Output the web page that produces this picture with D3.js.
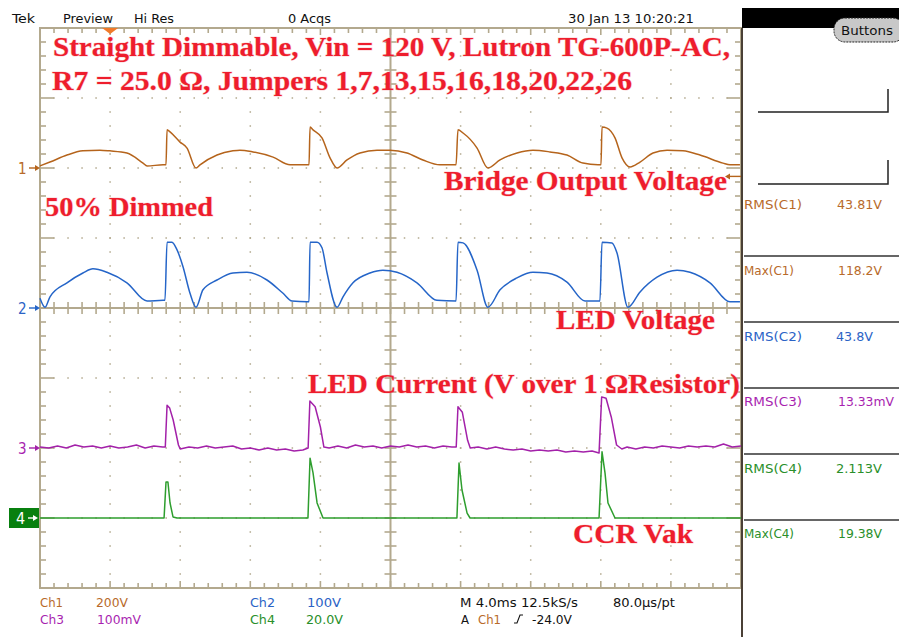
<!DOCTYPE html>
<html><head><meta charset="utf-8">
<script src="https://cdn.jsdelivr.net/npm/d3@7"></script>
<style>html,body{margin:0;padding:0;background:#fff;}svg{display:block;}</style>
</head><body>
<svg id="c" width="899" height="637"></svg>
<script>
// ---------------- DATA ----------------
// time in ms (4 ms/div, 10 div), values in channel units
const ch1Trace = [[0,6],[0.57,17],[1.54,37],[2.45,49],[3.42,51],[3.99,49],[4.96,43],[5.88,14],[6.11,6],[7.02,9],[7.19,9],[7.25,109],[7.42,103],[7.99,74],[8.39,57],[8.90,0],[9.13,9],[10.10,37],[11.01,49],[11.41,51],[12.15,46],[13.30,31],[14.27,9],[15.24,9],[15.35,9],[15.41,117],[15.58,109],[16.09,86],[16.55,29],[16.95,0],[17.52,23],[18.26,43],[19.23,51],[19.97,51],[20.94,43],[21.85,23],[22.82,9],[23.74,9],[23.85,109],[24.14,100],[24.94,57],[25.56,0],[26.25,23],[27.22,43],[28.13,51],[29.10,46],[30.07,37],[30.98,14],[31.84,9],[32.01,9],[32.07,117],[32.35,114],[32.81,86],[33.21,29],[33.67,3],[34.24,17],[34.98,43],[35.78,51],[36.69,49],[37.66,37],[38.97,14],[39.37,9],[39.94,9]];
const ch2Trace = [[0,14],[0.29,1],[0.57,16],[1.54,36],[2.45,50],[3.02,56],[3.82,51],[4.96,36],[6.11,10],[7.02,11],[7.13,11],[7.25,94],[7.53,94],[7.82,83],[8.16,59],[8.56,21],[8.90,1],[9.30,26],[10.10,40],[11.01,50],[11.81,51],[12.95,40],[13.87,21],[14.38,10],[15.24,9],[15.35,9],[15.41,94],[15.81,94],[16.09,86],[16.38,50],[16.95,1],[17.29,16],[17.86,36],[18.83,50],[19.57,54],[20.37,51],[21.51,36],[22.65,11],[23.74,10],[23.85,94],[24.14,93],[24.94,54],[25.56,1],[26.25,26],[27.22,43],[28.13,51],[28.93,50],[30.07,37],[31.10,10],[31.95,10],[32.07,94],[32.64,93],[32.92,79],[33.55,1],[34.24,23],[35.21,44],[36.35,54],[37.09,51],[38.23,36],[39.37,9],[39.94,9]];
const ch3Trace = [[0,1.4],[0.5,0],[1,2.9],[1.5,0],[2,4.3],[2.5,1.4],[3,2.9],[3.5,0],[4,2.9],[4.5,0],[5,1.4],[5.5,4.3],[6,0],[6.5,2.9],[7,1.4],[7.15,1.4],[7.25,61],[7.4,57],[7.6,40],[7.9,4.3],[8,-1.4],[8.5,1.4],[9,0],[9.5,2.9],[10,0],[10.5,1.4],[11,2.9],[11.5,-1.4],[12,0],[12.5,-2.9],[13,0],[13.5,-2.9],[14,-1.4],[14.5,-4.3],[15,-2.9],[15.3,0],[15.4,67],[15.7,59],[16,30],[16.2,1.4],[16.5,0],[17,2.9],[17.5,0],[18,4.3],[18.5,1.4],[19,2.9],[19.5,0],[20,2.9],[20.5,1.4],[21,4.3],[21.5,1.4],[22,2.9],[22.5,0],[23,2.9],[23.5,1.4],[23.75,1.4],[23.85,59],[24.1,51],[24.4,11],[24.55,0],[25,1.4],[25.5,-1.4],[26,1.4],[26.5,-1.4],[27,-2.9],[27.5,-1.4],[28,-4.3],[28.5,-2.9],[29,-4.3],[29.5,-2.9],[30,-5.7],[30.5,-4.3],[31,-5.7],[31.5,-4.3],[31.9,-7.1],[32.05,73],[32.3,71],[32.6,44],[32.9,4.3],[33.2,-1.4],[33.5,1.4],[34,-1.4],[34.5,1.4],[35,0],[35.5,2.9],[36,1.4],[36.5,0],[37,2.9],[37.5,1.4],[38,2.9],[38.5,1.4],[39,5.7],[39.5,1.4],[40,2.9]];
const ch4Trace = [[0,0],[7.08,0],[7.19,10.3],[7.30,10.3],[7.42,4.3],[7.59,0.3],[7.82,0],[15.29,0],[15.41,17.1],[15.58,12.9],[15.81,4.3],[16.15,0],[23.79,0],[23.91,15.7],[24.08,8.0],[24.37,1.4],[24.54,0],[31.90,0],[32.07,18.9],[32.24,12.9],[32.41,4.3],[32.81,0],[40,0]];

const channelNames = ["1","2","3","4"];
const channelOffsetsDiv = [2, 0, -2, -3];
const channelVoltsPerDiv = [200, 100, 100, 20];
const channelColors = ["#b5641c","#2565c8","#a321a9","#2e9e2e"];
const channelTextColors = ["#b86a2a","#2b63c6","#a81fb0","#2a8f2a"];

const headerLabels = ["Tek","Preview","Hi Res","0 Acqs","30 Jan 13 10:20:21"];
const titleLine1 = "Straight Dimmable, Vin = 120 V, Lutron TG-600P-AC,";
const titleLine2 = "R7 = 25.0 Ω, Jumpers 1,7,13,15,16,18,20,22,26";
const annotations = ["50% Dimmed","Bridge Output Voltage","LED Voltage","LED Current (V over 1 ΩResistor)","CCR Vak"];
const measureNames = ["RMS(C1)","Max(C1)","RMS(C2)","RMS(C3)","RMS(C4)","Max(C4)"];
const measureValues = ["43.81V","118.2V","43.8V","13.33mV","2.113V","19.38V"];
const measureChannel = [0,0,1,2,3,3];
const scaleLabels = [["Ch1","200V"],["Ch2","100V"],["Ch3","100mV"],["Ch4","20.0V"]];
const timebaseLabels = ["M 4.0ms 12.5kS/s","80.0µs/pt"];
const triggerLabels = ["A","Ch1","-24.0V"];
const triggerLevel = -24.0; // V on Ch1
const triggerTime = 4.0;    // ms, horizontal trigger position

// ---------------- LAYOUT ----------------
const svg = d3.select("#c");
const L = 40, R = 741, T = 28, B = 588;
const x = d3.scaleLinear().domain([0, 40]).range([L, R]);
const yDiv = d3.scaleLinear().domain([-4, 4]).range([B, T]);
const grid = "#b3a98e";
const chScale = i => d3.scaleLinear().domain([0, channelVoltsPerDiv[i]])
  .range([yDiv(channelOffsetsDiv[i]), yDiv(channelOffsetsDiv[i] + 1)]);

const g = svg.append("g");
const minorX = d3.range(0, 40.001, 0.8);
const minorY = d3.range(-4, 4.001, 0.2);
const majorX = d3.range(0, 40.001, 4);
const majorY = d3.range(-4, 4.001, 1);

// dotted grid
majorX.filter(v => v > 0 && v < 40 && v !== 20).forEach(v => {
  minorY.forEach(d => g.append("rect").attr("x", x(v) - 0.75).attr("y", yDiv(d) - 0.75).attr("width", 1.5).attr("height", 1.5).attr("fill", grid));
});
majorY.filter(v => v > -4 && v < 4 && v !== 0).forEach(v => {
  minorX.forEach(d => g.append("rect").attr("x", x(d) - 0.75).attr("y", yDiv(v) - 0.75).attr("width", 1.5).attr("height", 1.5).attr("fill", grid));
});

// border
g.append("rect").attr("x", L).attr("y", T).attr("width", R - L).attr("height", B - T)
  .attr("fill", "none").attr("stroke", grid).attr("stroke-width", 2);
// center cross
g.append("line").attr("x1", x(20)).attr("x2", x(20)).attr("y1", T).attr("y2", B).attr("stroke", grid).attr("stroke-width", 2);
g.append("line").attr("x1", L).attr("x2", R).attr("y1", yDiv(0)).attr("y2", yDiv(0)).attr("stroke", grid).attr("stroke-width", 2);

function tick(x1, y1, x2, y2) {
  g.append("line").attr("x1", x1).attr("y1", y1).attr("x2", x2).attr("y2", y2).attr("stroke", grid).attr("stroke-width", 1.6);
}
minorX.forEach(d => {
  const big = Math.abs(d / 4 - Math.round(d / 4)) < 1e-6;
  tick(x(d), T, x(d), T + (big ? 7 : 5));
  tick(x(d), B, x(d), B - (big ? 7 : 5));
  tick(x(d), yDiv(0) - 6, x(d), yDiv(0) + 6);
});
minorY.forEach(d => {
  const big = Math.abs(d - Math.round(d)) < 1e-6;
  tick(L, yDiv(d), L + (big ? 14 : 6), yDiv(d));
  tick(R, yDiv(d), R - (big ? 14 : 6), yDiv(d));
  tick(x(20) - 6, yDiv(d), x(20) + 6, yDiv(d));
});

// trigger position marker (top)
g.append("path").attr("d", `M${x(triggerTime) - 8},${T} L${x(triggerTime) + 8},${T} L${x(triggerTime)},${T + 6} Z`).attr("fill", "#f07a2a");

// ---------------- TRACES ----------------
const traces = [ch1Trace, ch2Trace, ch3Trace, ch4Trace];
const curves = [d3.curveMonotoneX, d3.curveMonotoneX, d3.curveLinear, d3.curveLinear];
traces.forEach((tr, i) => {
  const ys = chScale(i);
  const line = d3.line().x(d => x(d[0])).y(d => ys(d[1])).curve(curves[i]);
  svg.append("path").datum(tr).attr("d", line).attr("fill", "none")
    .attr("stroke", channelColors[i]).attr("stroke-width", 1.5).attr("stroke-linejoin", "round");
});

// trigger level marker on right
const yTrig = chScale(0)(triggerLevel);
svg.append("line").attr("x1", R - 14).attr("x2", R).attr("y1", yTrig).attr("y2", yTrig).attr("stroke", channelColors[0]).attr("stroke-width", 1.4);
svg.append("path").attr("d", `M${R - 16},${yTrig} l5,-3 l0,6 Z`).attr("fill", channelColors[0]);

// channel ground markers
channelNames.forEach((n, i) => {
  const yy = yDiv(channelOffsetsDiv[i]);
  if (i < 3) {
    svg.append("text").attr("x", 18).attr("y", yy + 6).text(n).attr("fill", channelTextColors[i])
      .attr("font-family", "DejaVu Sans Condensed, DejaVu Sans").attr("font-size", 15);
    svg.append("line").attr("x1", 29).attr("x2", 37).attr("y1", yy).attr("y2", yy).attr("stroke", channelColors[i]).attr("stroke-width", 1.4);
    svg.append("path").attr("d", `M${40},${yy} l-5,-3 l0,6 Z`).attr("fill", channelColors[i]);
  } else {
    svg.append("rect").attr("x", 9).attr("y", yy - 10).attr("width", 30).attr("height", 20).attr("fill", "#08800f");
    svg.append("text").attr("x", 16).attr("y", yy + 6).text(n).attr("fill", "#fff")
      .attr("font-family", "DejaVu Sans Condensed, DejaVu Sans").attr("font-size", 16);
    svg.append("line").attr("x1", 28).attr("x2", 36).attr("y1", yy).attr("y2", yy).attr("stroke", "#fff").attr("stroke-width", 1.4);
    svg.append("path").attr("d", `M${38},${yy} l-5,-3 l0,6 Z`).attr("fill", "#fff");
  }
});

// ---------------- RED ANNOTATIONS ----------------
function redText(str, x0, yb, w) {
  svg.append("text").attr("x", x0).attr("y", yb).text(str)
    .attr("font-family", "Liberation Serif, Times New Roman, serif").attr("font-weight", "bold")
    .attr("font-size", 28).attr("fill", "#ee1d2d")
    .attr("stroke", "rgba(240,120,130,0.35)").attr("stroke-width", 1.2).attr("paint-order", "stroke")
    .attr("textLength", w).attr("lengthAdjust", "spacingAndGlyphs");
}
redText(titleLine1, 53, 56, 677);
redText(titleLine2, 52, 90, 580);
redText(annotations[0], 45, 216, 168);
redText(annotations[1], 444, 190, 283);
redText(annotations[2], 556, 329, 159);
redText(annotations[3], 308, 393, 432);
redText(annotations[4], 573, 543, 120);

// ---------------- TEK UI TEXT ----------------
const uiFont = "DejaVu Sans Condensed, DejaVu Sans, sans-serif";
function ui(str, x0, yb, w, color, size) {
  const t = svg.append("text").attr("x", x0).attr("y", yb).text(str)
    .attr("font-family", uiFont).attr("font-size", size || 13).attr("fill", color || "#111");
  if (w) t.attr("textLength", w).attr("lengthAdjust", "spacingAndGlyphs");
  return t;
}
const headerX = [[12,23],[63,50],[134,40],[288,43],[568,126]];
headerLabels.forEach((s, i) => ui(s, headerX[i][0], 23, headerX[i][1]));

// right panel
svg.append("rect").attr("x", 742).attr("y", 8).attr("width", 157).attr("height", 20).attr("fill", "#000");
svg.append("rect").attr("x", 834).attr("y", 18).attr("width", 70).attr("height", 24).attr("rx", 11).attr("ry", 11)
  .attr("fill", "#c8c8c8").attr("stroke", "#222").attr("stroke-width", 1).attr("stroke-dasharray", "2,1");
ui("Buttons", 841, 35, 52, "#111", 13);
svg.append("line").attr("x1", 742).attr("x2", 742).attr("y1", 28).attr("y2", 637).attr("stroke", "#4a4036").attr("stroke-width", 2);
svg.append("path").attr("d", "M758,112 L888,112 L888,89").attr("fill", "none").attr("stroke", "#222").attr("stroke-width", 1.5);
svg.append("path").attr("d", "M758,184 L888,184 L888,160").attr("fill", "none").attr("stroke", "#222").attr("stroke-width", 1.5);

const measureY = [209, 275, 341, 406, 473, 538];
const measureNameW = [58, 50, 58, 58, 58, 50];
const measureValX = [837, 838, 836, 838, 836, 838];
const measureValW = [45, 44, 37, 56, 46, 44];
measureNames.forEach((s, i) => {
  const c = channelTextColors[measureChannel[i]];
  ui(s, 744, measureY[i], measureNameW[i], c);
  ui(measureValues[i], measureValX[i], measureY[i], measureValW[i], c);
});
[256, 322, 388, 454, 520].forEach(yy =>
  svg.append("line").attr("x1", 744).attr("x2", 899).attr("y1", yy).attr("y2", yy).attr("stroke", "#333").attr("stroke-width", 1.5));

// bottom status
const scalePos = [[40, 607, 96], [250, 607, 307], [40, 624, 97], [250, 624, 306]];
const scaleW = [[23, 32], [25, 34], [24, 44], [25, 37]];
const scaleColorIdx = [0, 1, 2, 3];
scaleLabels.forEach((p, i) => {
  const c = channelTextColors[scaleColorIdx[i]];
  ui(p[0], scalePos[i][0], scalePos[i][1], scaleW[i][0], c);
  ui(p[1], scalePos[i][2], scalePos[i][1], scaleW[i][1], c);
});
ui(timebaseLabels[0], 460, 607, 118);
ui(timebaseLabels[1], 613, 607, 62);
ui(triggerLabels[0], 461, 624, 8);
ui(triggerLabels[1], 478, 624, 23, channelTextColors[0]);
svg.append("path").attr("d", "M514,623 L517,623 L520,615 L523,615").attr("fill", "none").attr("stroke", "#111").attr("stroke-width", 1.1);
ui(triggerLabels[2], 532, 624, 40);
</script>
</body></html>
